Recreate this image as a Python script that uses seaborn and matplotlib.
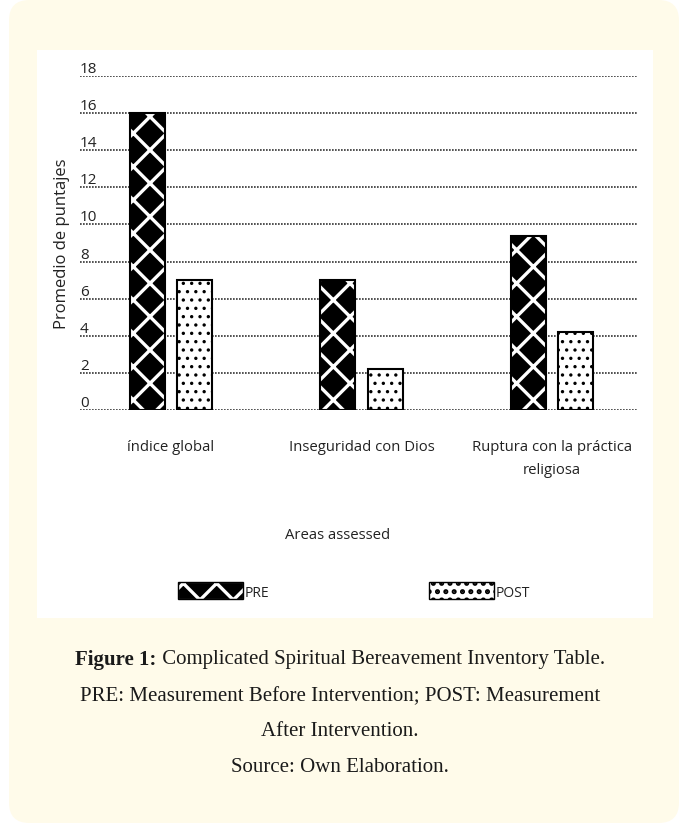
import pandas as pd
import matplotlib.pyplot as plt
import seaborn as sns
from matplotlib.patches import Patch, Rectangle, FancyBboxPatch

# --- datos ---
areas = ["índice global", "Inseguridad con Dios", "Ruptura con la práctica religiosa"]
tick_labels = ["índice global", "Inseguridad con Dios", "Ruptura con la práctica\nreligiosa"]
pre_values = [16.0, 7.0, 9.4]
post_values = [7.0, 2.2, 4.2]
y_ticks = [0, 2, 4, 6, 8, 10, 12, 14, 16, 18]

df = pd.DataFrame({
    "area": areas * 2,
    "momento": ["PRE"] * 3 + ["POST"] * 3,
    "puntaje": pre_values + post_values,
})

sns.set_theme(style="white")
plt.rcParams["font.family"] = ["Open Sans", "DejaVu Sans"]
plt.rcParams["hatch.linewidth"] = 2.4

W, H = 679, 829
fig = plt.figure(figsize=(W / 100, H / 100), dpi=100)
fig.patch.set_facecolor("white")

# fondo crema redondeado + recuadro blanco
cream = "#fffbea"
fig.patches.append(FancyBboxPatch((9 / W, 5 / H), 670 / W, 823 / H,
                                  boxstyle="round,pad=0,rounding_size=0.03",
                                  transform=fig.transFigure, fc=cream, ec="none",
                                  mutation_aspect=W / H, zorder=-10))
fig.patches.append(Rectangle((37 / W, 1 - 619 / H), (653 - 37) / W, (619 - 51) / H,
                             transform=fig.transFigure, fc="white", ec="none", zorder=-9))

ax = fig.add_axes([80 / W, 1 - 411 / H, (637 - 80) / W, (411 - 77) / H])
ax.set_facecolor("none")

sns.barplot(data=df, x="area", y="puntaje", hue="momento", hue_order=["PRE", "POST"],
            order=areas, width=0.5, gap=0.27, ax=ax, legend=False, errorbar=None)

ax.set_xlim(-0.478, 2.446)
ax.set_ylim(0, 18)
ax.set_yticks(y_ticks)
ax.set_yticklabels([str(t) for t in y_ticks])
ax.grid(axis="y", color="#333333", linestyle=(0, (1, 0.8)), linewidth=1.2)
ax.set_axisbelow(True)
sns.despine(ax=ax, left=True, bottom=True)

ax.tick_params(axis="y", length=0, pad=0, labelsize=11, labelcolor="#222222")
for lab in ax.get_yticklabels():
    lab.set_horizontalalignment("left")
    lab.set_verticalalignment("bottom")
ax.tick_params(axis="x", length=0, pad=21, labelsize=10.7, labelcolor="#222222")
ax.set_xticks(range(len(areas)))
ax.set_xticklabels(tick_labels, linespacing=1.7)

ax.set_ylabel("Promedio de puntajes", fontsize=12, color="#222222", labelpad=7)
ax.set_xlabel("Areas assessed", fontsize=10.7, color="#222222")
ax.xaxis.set_label_coords(0.463, -0.35)

# estilos de relleno: PRE negro con grietas blancas, POST blanco con trazos
for bar in ax.containers[0]:
    bar.set_facecolor("black")
    bar.set_edgecolor("white")
    bar.set_linewidth(1.2)
    bar.set_hatch("x")
    ax.add_patch(Rectangle(bar.get_xy(), bar.get_width(), bar.get_height(),
                           fill=False, ec="black", lw=1.5, zorder=3))
for bar in ax.containers[1]:
    bar.set_facecolor("white")
    bar.set_edgecolor("black")
    bar.set_linewidth(1.5)
    bar.set_hatch("..")
    if hasattr(bar, "set_hatch_linewidth"):
        bar.set_hatch_linewidth(1.2)

# leyenda
pre_fill = Patch(facecolor="black", edgecolor="white", hatch="x", lw=0.8)
pre_edge = Patch(facecolor="none", edgecolor="black", lw=1.0)
post_fill = Patch(facecolor="white", edgecolor="black", hatch="..", lw=1.0)
fig.legend([(pre_fill, pre_edge), post_fill], ["PRE", "POST"], loc="center",
           bbox_to_anchor=(354 / W, 1 - 592 / H), ncol=2, frameon=False,
           fontsize=10, handlelength=4.7, handleheight=1.5, handletextpad=0.1,
           columnspacing=11.5, labelcolor="#222222")

# pie de figura
serif = ["Liberation Serif", "DejaVu Serif"]
cap_size = 15
renderer = fig.canvas.get_renderer()
y1 = 1 - 660 / H
t_bold = fig.text(0, y1, "Figure 1:", fontsize=cap_size, family=serif,
                  fontweight="bold", va="center", color="#1a1a1a")
t_rest = fig.text(0, y1, " Complicated Spiritual Bereavement Inventory Table.",
                  fontsize=cap_size, family=serif, va="center", color="#1a1a1a")
wb = t_bold.get_window_extent(renderer).width / W
wr = t_rest.get_window_extent(renderer).width / W
x0 = 340 / W - (wb + wr) / 2
t_bold.set_x(x0)
t_rest.set_x(x0 + wb)

for line, yp in [("PRE: Measurement Before Intervention; POST: Measurement", 697),
                 ("After Intervention.", 732),
                 ("Source: Own Elaboration.", 768)]:
    fig.text(340 / W, 1 - yp / H, line, fontsize=cap_size, family=serif,
             ha="center", va="center", color="#1a1a1a")

fig.savefig("out.png", dpi=100, facecolor="white")
